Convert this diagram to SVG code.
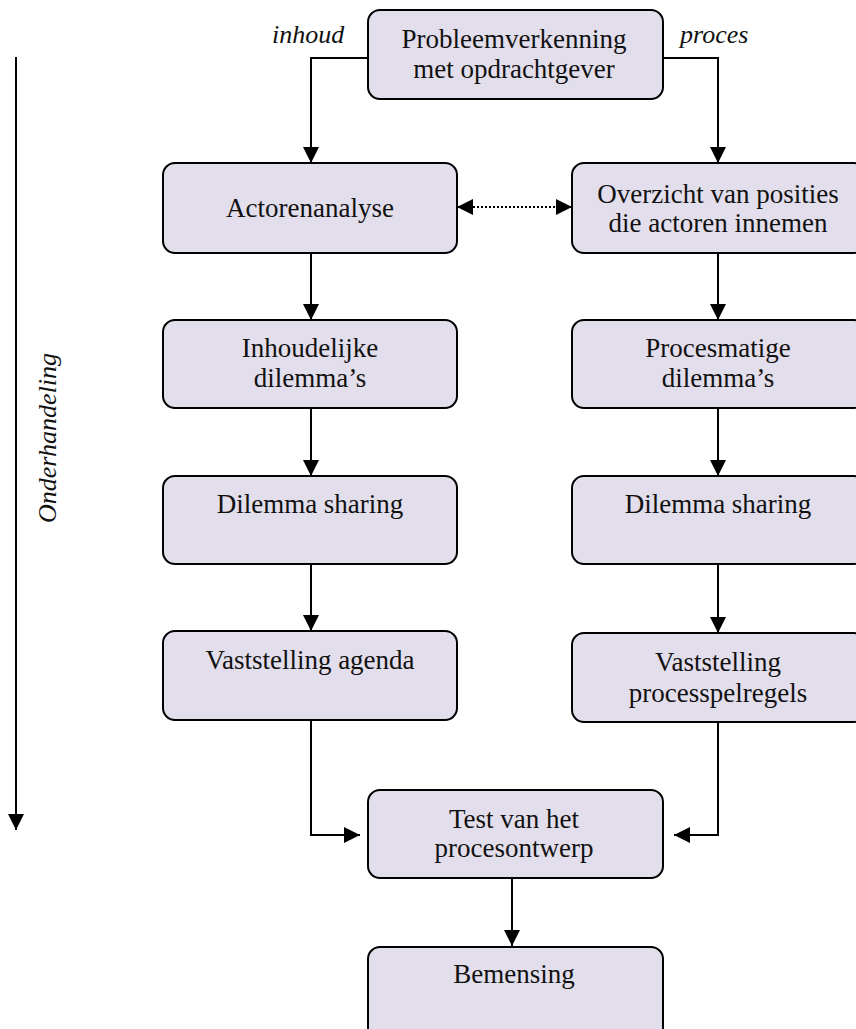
<svg xmlns="http://www.w3.org/2000/svg" width="856" height="1029" viewBox="0 0 856 1029">
  <style>
    .box { fill: #E3DEEB; stroke: #000; stroke-width: 2; }
    .lbl { font-family: "Liberation Serif", "Times New Roman", serif; font-size: 27px; fill: #111; text-anchor: middle; }
    .it { font-family: "Liberation Serif", "Times New Roman", serif; font-size: 26px; font-style: italic; fill: #111; }
    .wire { fill: none; stroke: #000; stroke-width: 2; }
    .dots { fill: none; stroke: #000; stroke-width: 2; stroke-dasharray: 2 2; }
  </style>
  <defs>
    <marker id="head" viewBox="0 0 10 10" refX="10" refY="5" markerWidth="16" markerHeight="16" markerUnits="userSpaceOnUse" orient="auto-start-reverse">
      <path d="M0,0 L10,5 L0,10 Z" fill="#000"/>
    </marker>
  </defs>
  <rect width="856" height="1029" fill="#fff"/>

  <!-- side labels -->
  <text class="it" x="272" y="43">inhoud</text>
  <text class="it" x="680" y="43">proces</text>
  <text class="it" transform="translate(56,438) rotate(-90)" text-anchor="middle" font-size="28">Onderhandeling</text>

  <!-- connectors -->
  <g id="connectors">
    <line class="wire" x1="16" y1="57" x2="16" y2="830" marker-end="url(#head)"/>
    <polyline class="wire" points="368,58 311,58 311,163" marker-end="url(#head)"/>
    <polyline class="wire" points="663,58 718,58 718,163" marker-end="url(#head)"/>
    <line class="dots" x1="457" y1="207" x2="572" y2="207" marker-start="url(#head)" marker-end="url(#head)"/>
    <line class="wire" x1="311" y1="253" x2="311" y2="320" marker-end="url(#head)"/>
    <line class="wire" x1="718" y1="253" x2="718" y2="320" marker-end="url(#head)"/>
    <line class="wire" x1="311" y1="408" x2="311" y2="476" marker-end="url(#head)"/>
    <line class="wire" x1="718" y1="408" x2="718" y2="476" marker-end="url(#head)"/>
    <line class="wire" x1="311" y1="564" x2="311" y2="631" marker-end="url(#head)"/>
    <line class="wire" x1="718" y1="564" x2="718" y2="633" marker-end="url(#head)"/>
    <polyline class="wire" points="311,720 311,835 360,835" marker-end="url(#head)"/>
    <polyline class="wire" points="718,722 718,835 674,835" marker-end="url(#head)"/>
    <line class="wire" x1="512" y1="878" x2="512" y2="946" marker-end="url(#head)"/>
  </g>

  <g id="probleemverkenning">
    <rect class="box" x="368" y="10" width="295" height="89" rx="12"/>
    <text class="lbl" x="514" y="48">Probleemverkenning</text>
    <text class="lbl" x="514" y="78">met opdrachtgever</text>
  </g>

  <g id="actorenanalyse">
    <rect class="box" x="163" y="163" width="294" height="90" rx="12"/>
    <text class="lbl" x="310" y="217">Actorenanalyse</text>
  </g>

  <g id="overzicht-posities">
    <rect class="box" x="572" y="163" width="294" height="90" rx="12"/>
    <text class="lbl" x="718" y="203">Overzicht van posities</text>
    <text class="lbl" x="718" y="232">die actoren innemen</text>
  </g>

  <g id="inhoudelijke-dilemmas">
    <rect class="box" x="163" y="320" width="294" height="88" rx="12"/>
    <text class="lbl" x="310" y="357">Inhoudelijke</text>
    <text class="lbl" x="310" y="387">dilemma’s</text>
  </g>

  <g id="procesmatige-dilemmas">
    <rect class="box" x="572" y="320" width="294" height="88" rx="12"/>
    <text class="lbl" x="718" y="357">Procesmatige</text>
    <text class="lbl" x="718" y="387">dilemma’s</text>
  </g>

  <g id="dilemma-sharing-inhoud">
    <rect class="box" x="163" y="476" width="294" height="88" rx="12"/>
    <text class="lbl" x="310" y="513">Dilemma sharing</text>
  </g>

  <g id="dilemma-sharing-proces">
    <rect class="box" x="572" y="476" width="294" height="88" rx="12"/>
    <text class="lbl" x="718" y="513">Dilemma sharing</text>
  </g>

  <g id="vaststelling-agenda">
    <rect class="box" x="163" y="631" width="294" height="89" rx="12"/>
    <text class="lbl" x="310" y="669">Vaststelling agenda</text>
  </g>

  <g id="vaststelling-processpelregels">
    <rect class="box" x="572" y="633" width="294" height="89" rx="12"/>
    <text class="lbl" x="718" y="671">Vaststelling</text>
    <text class="lbl" x="718" y="702">processpelregels</text>
  </g>

  <g id="test-procesontwerp">
    <rect class="box" x="368" y="790" width="295" height="88" rx="12"/>
    <text class="lbl" x="514" y="828">Test van het</text>
    <text class="lbl" x="514" y="857">procesontwerp</text>
  </g>

  <g id="bemensing">
    <rect class="box" x="368" y="947" width="295" height="100" rx="12"/>
    <text class="lbl" x="514" y="983">Bemensing</text>
  </g>
</svg>
